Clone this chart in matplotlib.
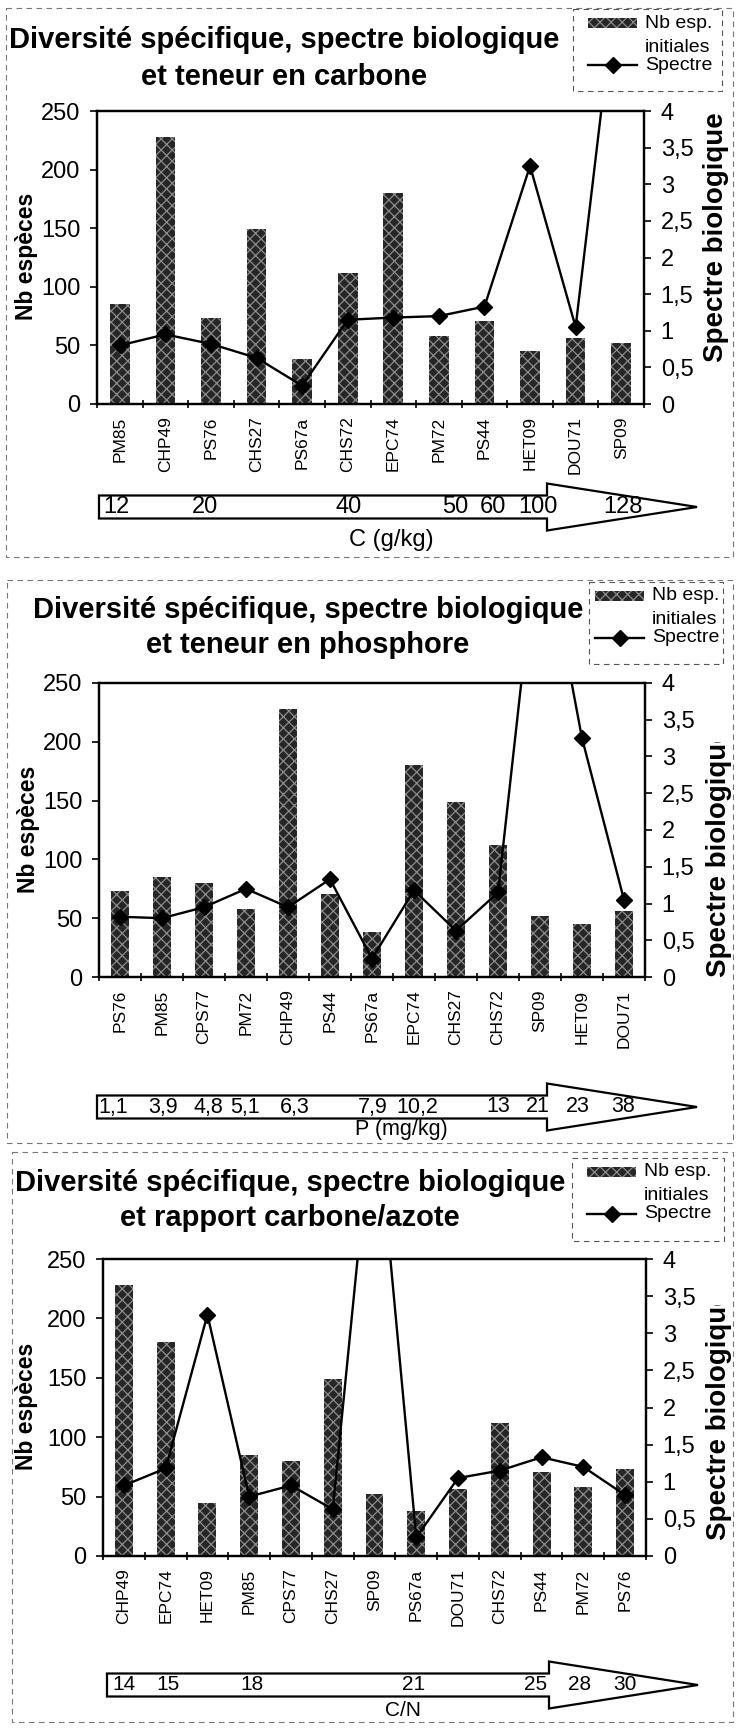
import matplotlib
matplotlib.use('Agg')
import matplotlib.pyplot as plt
from matplotlib.patches import Rectangle, Polygon
from matplotlib.transforms import Bbox, TransformedBbox
import numpy as np

plt.rcParams['font.family'] = ['Liberation Sans', 'DejaVu Sans']
plt.rcParams['hatch.linewidth'] = 0.9

# données par site
sites = ['PM85', 'CHP49', 'PS76', 'CHS27', 'PS67a', 'CHS72', 'EPC74',
         'PM72', 'PS44', 'HET09', 'DOU71', 'SP09', 'CPS77']
nb_especes = [85, 228, 73, 149, 38, 112, 180, 58, 71, 45, 56, 52, 80]
spectre = [0.80, 0.95, 0.82, 0.63, 0.25, 1.15, 1.18, 1.20, 1.33, 3.25, 1.05, 6.3, 0.95]

# ordre des sites le long de chaque gradient
ordre_carbone = ['PM85', 'CHP49', 'PS76', 'CHS27', 'PS67a', 'CHS72', 'EPC74',
                 'PM72', 'PS44', 'HET09', 'DOU71', 'SP09']
ordre_phosphore = ['PS76', 'PM85', 'CPS77', 'PM72', 'CHP49', 'PS44', 'PS67a',
                   'EPC74', 'CHS27', 'CHS72', 'SP09', 'HET09', 'DOU71']
ordre_cn = ['CHP49', 'EPC74', 'HET09', 'PM85', 'CPS77', 'CHS27', 'SP09',
            'PS67a', 'DOU71', 'CHS72', 'PS44', 'PM72', 'PS76']

# valeurs écrites dans les flèches
valeurs_carbone = ['12', '20', '40', '50', '60', '100', '128']
valeurs_phosphore = ['1,1', '3,9', '4,8', '5,1', '6,3', '7,9', '10,2', '13', '21', '23', '38']
valeurs_cn = ['14', '15', '18', '21', '25', '28', '30']

W, H = 739, 1728
fig = plt.figure(figsize=(W / 100, H / 100), dpi=100)
bg = fig.add_axes([0, 0, 1, 1])
bg.set_xlim(0, W)
bg.set_ylim(H, 0)
bg.axis('off')

BAR_FC = '#262626'
BAR_HC = '#8c8c8c'


def px_axes(left, top, right, bottom):
    return fig.add_axes([left / W, 1 - bottom / H, (right - left) / W, (bottom - top) / H])


def clip_px(x0, y_top, x1, y_bot):
    return TransformedBbox(Bbox.from_extents(x0 / W, 1 - y_bot / H, x1 / W, 1 - y_top / H),
                           fig.transFigure)


def panneau(ordre, titre2, valeurs, lay):
    idx = [sites.index(s) for s in ordre]
    nb = [nb_especes[i] for i in idx]
    sp = [spectre[i] for i in idx]
    n = len(ordre)
    x = np.arange(n)

    # cadre pointillé
    fx0, fy0, fx1, fy1 = lay['frame']
    bg.add_patch(Rectangle((fx0, fy0), fx1 - fx0, fy1 - fy0, fill=False,
                           ls=(0, (5, 4)), lw=0.8, ec='#777777'))

    # titre
    tx, ty1, ty2 = lay['title']
    bg.text(tx, ty1, 'Diversité spécifique, spectre biologique', ha='center', va='center',
            fontsize=21, fontweight='bold')
    bg.text(tx, ty2, titre2, ha='center', va='center', fontsize=21, fontweight='bold')

    ax = px_axes(*lay['axes'])
    ax.bar(x, nb, width=0.43, color=BAR_FC, edgecolor=BAR_HC, hatch='xxx', linewidth=0)
    ax.set_xlim(-0.5, n - 0.5)
    ax.set_ylim(0, 250)
    ax.set_yticks(range(0, 251, 50))
    ax.set_xticks(x)
    ax.set_xticklabels(ordre, rotation=90, fontsize=12.5)
    ax.set_xticks(np.arange(-0.5, n), minor=True)
    ax.tick_params(axis='x', which='major', length=0, pad=9)
    ax.tick_params(axis='x', which='minor', length=6, direction='inout', width=1.2)
    ax.tick_params(axis='y', labelsize=17, length=5, width=1.2, pad=7)

    ax2 = ax.twinx()
    ax2.plot(x, sp, color='black', lw=1.7, marker='D', ms=8)
    ax2.set_ylim(0, 4)
    ticks = np.arange(0, 4.01, 0.5)
    ax2.set_yticks(ticks)
    ax2.set_yticklabels([f'{t:g}'.replace('.', ',') for t in ticks])
    ax2.tick_params(axis='y', labelsize=17, length=5, width=1.2, pad=7)
    for a in (ax, ax2):
        for s in a.spines.values():
            s.set_linewidth(1.6)

    # titres des axes
    lx, ly = lay['ylabel_left']
    bg.text(lx, ly, 'Nb espèces', rotation=90, ha='center', va='bottom',
            fontsize=16.5, fontweight='bold')
    rx, ry, rclip = lay['ylabel_right']
    t = bg.text(rx, ry, 'Spectre biologique', rotation=90, ha='center', va='bottom',
                fontsize=20, fontweight='bold')
    if rclip is not None:
        t.set_clip_box(clip_px(rx - 30, rclip, rx + 30, ry + 10))
        t.set_clip_on(True)

    # légende
    gx0, gy0, gx1, gy1 = lay['legend']
    bg.add_patch(Rectangle((gx0, gy0), gx1 - gx0, gy1 - gy0, fill=False,
                           ls=(0, (5, 4)), lw=0.8, ec='#555555'))
    px0 = gx0 + lay['legend_dx']
    bg.add_patch(Rectangle((px0, gy0 + 9), 49, 10, fc=BAR_FC, ec=BAR_HC, hatch='xxx', lw=0))
    bg.text(px0 + 57, gy0 + 14, 'Nb esp.', fontsize=14, va='center')
    bg.text(px0 + 57, gy0 + 38, 'initiales', fontsize=14, va='center')
    bg.plot([px0, px0 + 49], [gy0 + 56, gy0 + 56], color='black', lw=1.7)
    bg.plot([px0 + 25], [gy0 + 56], color='black', marker='D', ms=8)
    bg.text(px0 + 57, gy0 + 56, 'Spectre', fontsize=14, va='center')

    # flèche du gradient
    ax0, axh, axt, yc = lay['arrow']
    bh, hh = 11.5, 23.5
    bg.add_patch(Polygon([(ax0, yc - bh), (axh, yc - bh), (axh, yc - hh), (axt, yc),
                          (axh, yc + hh), (axh, yc + bh), (ax0, yc + bh)],
                         closed=True, fc='white', ec='black', lw=1.6))
    for v, vx in zip(valeurs, lay['values_x']):
        bg.text(vx, yc, v, ha='center', va='center', fontsize=lay['values_fs'])
    nx, ny, nom = lay['name']
    bg.text(nx, ny, nom, ha='center', va='center', fontsize=lay['values_fs'])


panneau(ordre_carbone, 'et teneur en carbone', valeurs_carbone, {
    'frame': (6, 8, 733, 557),
    'title': (284, 40, 77),
    'axes': (97, 111, 644, 404),
    'ylabel_left': (27, 320),
    'ylabel_right': (716, 362, None),
    'legend': (573, 9, 722, 91),
    'legend_dx': 15,
    'arrow': (99, 547, 697, 507),
    'values_x': [116, 205, 349, 455, 493, 538, 623],
    'values_fs': 17,
    'name': (391, 540, 'C (g/kg)'),
})

panneau(ordre_phosphore, 'et teneur en phosphore', valeurs_phosphore, {
    'frame': (7, 580, 733, 1143),
    'title': (308, 610, 645),
    'axes': (99, 683, 645, 977),
    'ylabel_left': (28, 893),
    'ylabel_right': (719, 977, 742),
    'legend': (589, 582, 723, 664),
    'legend_dx': 6,
    'arrow': (97, 547, 697, 1107),
    'values_x': [113, 163, 208, 245, 295, 373, 417, 498, 538, 578, 623],
    'values_fs': 15.5,
    'name': (401, 1129, 'P (mg/kg)'),
})

panneau(ordre_cn, 'et rapport carbone/azote', valeurs_cn, {
    'frame': (12, 1152, 733, 1722),
    'title': (290, 1183, 1218),
    'axes': (103, 1259, 646, 1556),
    'ylabel_left': (27, 1470),
    'ylabel_right': (719, 1540, 1305),
    'legend': (572, 1158, 724, 1241),
    'legend_dx': 15,
    'arrow': (107, 549, 698, 1685),
    'values_x': [124, 168, 252, 414, 536, 580, 625],
    'values_fs': 15,
    'name': (403, 1710, 'C/N'),
})

fig.savefig('out.png', dpi=100)
